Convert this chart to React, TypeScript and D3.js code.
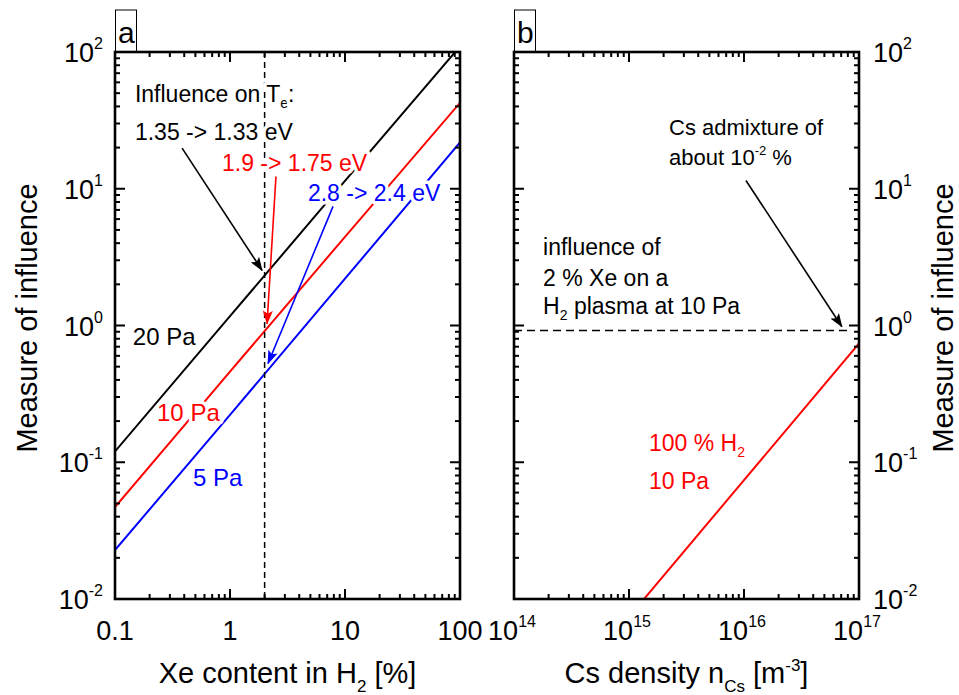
import React from "react";
import * as d3 from "d3";

// ---------- data ----------
const xeContent = [0.1, 1, 10, 100]; // %
const infl20Pa = [0.12, 1.17, 11.4, 110];
const infl10Pa = [0.047, 0.46, 4.45, 42.5];
const infl5Pa = [0.0228, 0.222, 2.2, 21.8];
const xeMarker = 2; // % (dashed line)

const csDensity = [1e15, 1e16, 1e17]; // m^-3
const inflCs10Pa = [0.0074, 0.074, 0.74];
const xeReferenceLevel = 0.92;
const refLineX = [1e14, 8e16];

const xTickLabelsA = ["0.1", "1", "10", "100"];
const xTickExpB = ["14", "15", "16", "17"];
const yTickExp = ["-2", "-1", "0", "1", "2"];

const W = 959;
const H = 695;
const FONT = "'Liberation Sans', Arial, Helvetica, sans-serif";

const top = 52;
const bottom = 599;
const aL = 115,
  aR = 460,
  bL = 514,
  bR = 859;

const yScale = d3.scaleLog().domain([0.01, 100]).range([bottom, top]);
const xA = d3.scaleLog().domain([0.1, 100]).range([aL, aR]);
const xB = d3.scaleLog().domain([1e14, 1e17]).range([bL, bR]);

const isMajor = (v: number) => Math.abs(Math.log10(v) - Math.round(Math.log10(v))) < 1e-6;

function Ticks({ x, left, right }: { x: any; left: number; right: number }) {
  const xt = x.ticks();
  const yt = yScale.ticks();
  const els: any[] = [];
  xt.forEach((v: number, i: number) => {
    const px = x(v);
    const len = isMajor(v) ? 10 : 5;
    els.push(<line key={"xb" + i} x1={px} x2={px} y1={bottom} y2={bottom - len} />);
    els.push(<line key={"xt" + i} x1={px} x2={px} y1={top} y2={top + len} />);
  });
  yt.forEach((v: number, i: number) => {
    const py = yScale(v);
    const len = isMajor(v) ? 10 : 5;
    els.push(<line key={"yl" + i} x1={left} x2={left + len} y1={py} y2={py} />);
    els.push(<line key={"yr" + i} x1={right} x2={right - len} y1={py} y2={py} />);
  });
  return (
    <g stroke="#000" strokeWidth={2}>
      {els}
    </g>
  );
}

function Halo({ children, ...rest }: any) {
  return (
    <text
      {...rest}
      stroke="#fff"
      strokeWidth={7}
      strokeLinejoin="round"
      style={{ paintOrder: "stroke" } as any}
    >
      {children}
    </text>
  );
}

export default function App() {
  const lineA = d3
    .line<number>()
    .x((_, i) => xA(xeContent[i]))
    .y((d) => yScale(d));
  const lineB = d3
    .line<number>()
    .x((_, i) => xB(csDensity[i]))
    .y((d) => yScale(d));

  const yMajors = yScale.ticks().filter(isMajor);
  const xMajA = xA.ticks().filter(isMajor);
  const xMajB = xB.ticks().filter(isMajor);

  const arrow = (x1: number, y1: number, x2: number, y2: number, color: string, key: string, sx: any) => (
    <line
      key={key}
      x1={sx(x1)}
      y1={yScale(y1)}
      x2={sx(x2)}
      y2={yScale(y2)}
      stroke={color}
      strokeWidth={1.6}
      markerEnd={`url(#arr-${color.replace("#", "")})`}
    />
  );

  return (
    <svg
      width={W}
      height={H}
      style={{ position: "absolute", left: 0, top: 0, background: "#fff" }}
      fontFamily={FONT}
    >
      <defs>
        {["000000", "ff0000", "0000ff"].map((c) => (
          <marker
            key={c}
            id={`arr-${c}`}
            viewBox="0 0 14 10"
            refX={13}
            refY={5}
            markerWidth={14}
            markerHeight={10}
            markerUnits="userSpaceOnUse"
            orient="auto"
          >
            <path d="M0,0 L14,5 L0,10 L3,5 Z" fill={"#" + c} />
          </marker>
        ))}
        <clipPath id="clipA">
          <rect x={aL} y={top} width={aR - aL} height={bottom - top} />
        </clipPath>
        <clipPath id="clipB">
          <rect x={bL} y={top} width={bR - bL} height={bottom - top} />
        </clipPath>
      </defs>
      <rect width={W} height={H} fill="#fff" />

      {/* ---------- Panel a ---------- */}
      <g clipPath="url(#clipA)">
        <path d={lineA(infl20Pa) || ""} fill="none" stroke="#000" strokeWidth={2} />
        <path d={lineA(infl10Pa) || ""} fill="none" stroke="#ff0000" strokeWidth={2} />
        <path d={lineA(infl5Pa) || ""} fill="none" stroke="#0000ff" strokeWidth={2} />
        <line
          x1={xA(xeMarker)}
          x2={xA(xeMarker)}
          y1={top}
          y2={bottom}
          stroke="#000"
          strokeWidth={1.5}
          strokeDasharray="6,4"
        />
      </g>
      <g fontSize={23}>
        <Halo x={xA(0.149)} y={yScale(42.9)} fill="#000">
          Influence on T
          <tspan fontSize={14} dy={6}>
            e
          </tspan>
          <tspan dy={-6}>:</tspan>
        </Halo>
        <Halo x={xA(0.149)} y={yScale(22.6)} fill="#000">
          1.35 -&gt; 1.33 eV
        </Halo>
        <Halo x={xA(0.852)} y={yScale(13.4)} fill="#ff0000">
          1.9 -&gt; 1.75 eV
        </Halo>
        <Halo x={xA(4.76)} y={yScale(8.09)} fill="#0000ff">
          2.8 -&gt; 2.4 eV
        </Halo>
        <Halo x={xA(0.143)} y={yScale(0.726)} fill="#000" fontSize={24}>
          20 Pa
        </Halo>
        <Halo x={xA(0.232)} y={yScale(0.2)} fill="#ff0000" fontSize={24}>
          10 Pa
        </Halo>
        <Halo x={xA(0.477)} y={yScale(0.0674)} fill="#0000ff" fontSize={24}>
          5 Pa
        </Halo>
      </g>
      {arrow(0.383, 19.8, 1.9, 2.53, "#000000", "a1", xA)}
      {arrow(2.51, 12.3, 2.1, 1.03, "#ff0000", "a2", xA)}
      {arrow(7.87, 7.43, 2.14, 0.527, "#0000ff", "a3", xA)}

      <Ticks x={xA} left={aL} right={aR} />
      <rect x={aL} y={top} width={aR - aL} height={bottom - top} fill="none" stroke="#000" strokeWidth={2.6} />

      {/* y tick labels left */}
      <g fontSize={27} fill="#000">
        {yMajors.map((v: number, i: number) => (
          <text key={"yla" + i} x={aL - 12} y={yScale(v) + 10} textAnchor="end">
            10
            <tspan fontSize={16} dy={-13}>
              {yTickExp[i]}
            </tspan>
          </text>
        ))}
        {xMajA.map((v: number, i: number) => (
          <text key={"xla" + i} x={xA(v)} y={640} textAnchor="middle">
            {xTickLabelsA[i]}
          </text>
        ))}
      </g>
      <text x={(aL + aR) / 2} y={683} fontSize={29} textAnchor="middle">
        Xe content in H
        <tspan fontSize={17} dy={9}>
          2
        </tspan>
        <tspan dy={-9}> [%]</tspan>
      </text>
      <text transform={`translate(37,318) rotate(-90)`} fontSize={29} textAnchor="middle">
        Measure of influence
      </text>
      <rect x={115.5} y={10} width={21} height={42} fill="none" stroke="#000" strokeWidth={1} />
      <text x={118} y={43} fontSize={30}>
        a
      </text>

      {/* ---------- Panel b ---------- */}
      <g clipPath="url(#clipB)">
        <path d={lineB(inflCs10Pa) || ""} fill="none" stroke="#ff0000" strokeWidth={2} />
        <line
          x1={xB(refLineX[0])}
          x2={xB(refLineX[1])}
          y1={yScale(xeReferenceLevel)}
          y2={yScale(xeReferenceLevel)}
          stroke="#000"
          strokeWidth={1.5}
          strokeDasharray="8,5"
        />
      </g>
      <g fontSize={22}>
        <text x={xB(2.23e15)} y={yScale(24.6)}>
          Cs admixture of
        </text>
        <text x={xB(2.23e15)} y={yScale(14.8)}>
          about 10
          <tspan fontSize={13} dy={-10}>
            -2
          </tspan>
          <tspan dy={10}> %</tspan>
        </text>
      </g>
      <g fontSize={23}>
        <text x={xB(1.79e14)} y={yScale(3.25)}>
          influence of
        </text>
        <text x={xB(1.79e14)} y={yScale(1.96)}>
          2 % Xe on a
        </text>
        <text x={xB(1.79e14)} y={yScale(1.22)}>
          H
          <tspan fontSize={14} dy={6}>
            2
          </tspan>
          <tspan dy={-6}> plasma at 10 Pa</tspan>
        </text>
        <text x={xB(1.49e15)} y={yScale(0.1216)} fill="#ff0000">
          100 % H
          <tspan fontSize={14} dy={6}>
            2
          </tspan>
        </text>
        <text x={xB(1.49e15)} y={yScale(0.0641)} fill="#ff0000">
          10 Pa
        </text>
      </g>
      {arrow(1.04e16, 11.5, 7.1e16, 0.98, "#000000", "b1", xB)}

      <Ticks x={xB} left={bL} right={bR} />
      <rect x={bL} y={top} width={bR - bL} height={bottom - top} fill="none" stroke="#000" strokeWidth={2.6} />

      <g fontSize={27} fill="#000">
        {yMajors.map((v: number, i: number) => (
          <text key={"ylb" + i} x={bR + 14} y={yScale(v) + 10}>
            10
            <tspan fontSize={16} dy={-13}>
              {yTickExp[i]}
            </tspan>
          </text>
        ))}
        {xMajB.map((v: number, i: number) => (
          <text key={"xlb" + i} x={xB(v) - 2} y={640} textAnchor="middle">
            10
            <tspan fontSize={16} dy={-13}>
              {xTickExpB[i]}
            </tspan>
          </text>
        ))}
      </g>
      <text x={(bL + bR) / 2} y={683} fontSize={29} textAnchor="middle">
        Cs density n
        <tspan fontSize={17} dy={9}>
          Cs
        </tspan>
        <tspan dy={-9}> [m</tspan>
        <tspan fontSize={17} dy={-12}>
          -3
        </tspan>
        <tspan dy={12}>]</tspan>
      </text>
      <text transform={`translate(953,318) rotate(-90)`} fontSize={29} textAnchor="middle">
        Measure of influence
      </text>
      <rect x={514.5} y={10} width={21} height={42} fill="none" stroke="#000" strokeWidth={1} />
      <text x={517} y={43} fontSize={30}>
        b
      </text>
    </svg>
  );
}
